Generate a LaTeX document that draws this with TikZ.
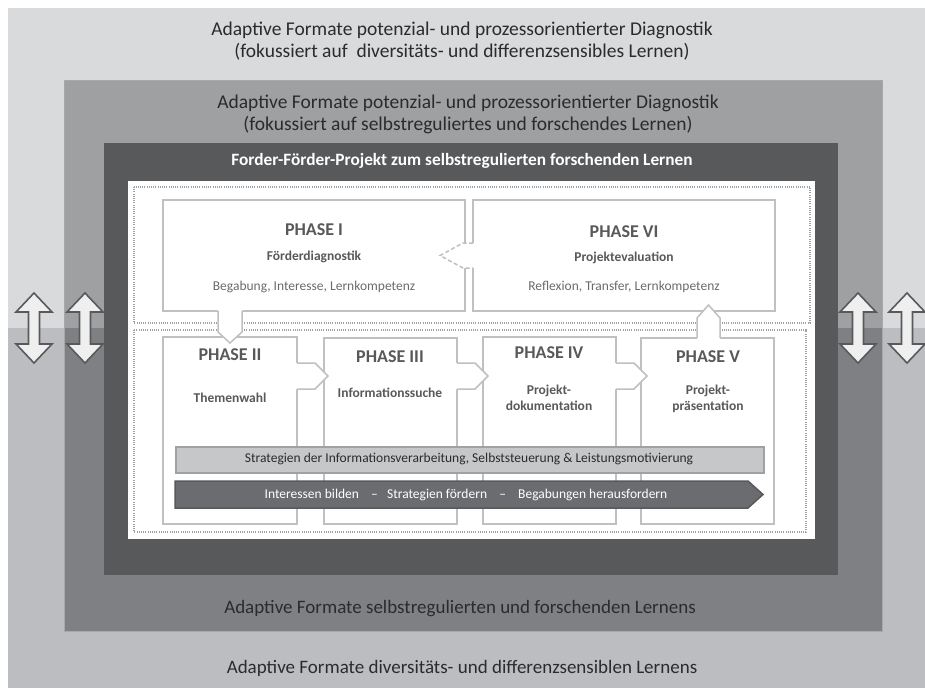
\documentclass[tikz,border=0pt]{standalone}
\usepackage{fontspec}
\setmainfont{Carlito}
\definecolor{lightU}{HTML}{D9DADB}
\definecolor{lightL}{HTML}{BCBDC0}
\definecolor{midU}{HTML}{9FA0A2}
\definecolor{midL}{HTML}{7F8083}
\definecolor{midB}{HTML}{A7A8AA}
\definecolor{darkC}{HTML}{58595B}
\definecolor{txtD}{HTML}{2B2B2D}
\definecolor{boxE}{HTML}{BFC0C2}
\definecolor{phT}{HTML}{58595B}
\definecolor{phD}{HTML}{6A6B6D}
\definecolor{dotC}{HTML}{A0A1A3}
\definecolor{barF}{HTML}{C6C7C9}
\definecolor{barE}{HTML}{A0A1A3}
\definecolor{arrF}{HTML}{6B6C6F}
\definecolor{dblF}{HTML}{EFEFEF}
\begin{document}
\begin{tikzpicture}[x=1bp,y=-1bp,
  bigtxt/.style={text=txtD,align=center,inner sep=0pt,font=\fontsize{19.5bp}{22.5bp}\selectfont},
  bottxt/.style={text=txtD,align=center,inner sep=0pt,font=\fontsize{19bp}{22bp}\selectfont},
  titletxt/.style={text=white,inner sep=0pt,font=\bfseries\fontsize{17.3bp}{19bp}\selectfont},
  phasebox/.style={draw=boxE,fill=white,line width=1.5bp,inner sep=0pt,outer sep=0pt,anchor=north west},
  phttl/.style={text=phT,inner sep=0pt,font=\bfseries\fontsize{18bp}{20bp}\selectfont},
  phsub/.style={text=phT,inner sep=0pt,align=center,font=\bfseries\fontsize{13.5bp}{15.5bp}\selectfont},
  phdesc/.style={text=phD,inner sep=0pt,font=\fontsize{13.5bp}{15bp}\selectfont},
  tabline/.style={draw=boxE,line width=1.5bp,line join=miter},
  tabdash/.style={draw=boxE,line width=1.5bp,dash pattern=on 4bp off 2.5bp},
  dotbox/.style={draw=dotC,line width=1.2bp,dash pattern=on 1bp off 1.2bp},
  dblarr/.style={draw=darkC,fill=dblF,line width=1.6bp,line join=miter},
  bartxt/.style={text=txtD,inner sep=0pt,font=\fontsize{13.5bp}{15bp}\selectfont},
  arrtxt/.style={text=white,inner sep=0pt,font=\fontsize{13.5bp}{15bp}\selectfont}]
\useasboundingbox (0,0) rectangle (925,688);
\fill[white] (0,0) rectangle (925,688);
% background layers
\fill[lightU] (8,8) rectangle (925,328);
\fill[lightL] (8,328) rectangle (925,688);
\fill[midU] (64,81) rectangle (882,328);
\fill[midL] (64,328) rectangle (882,631);
\draw[midB,line width=1bp] (64,81) rectangle (882,631);
\fill[darkC] (104,143) rectangle (838,575);
\fill[white] (128,181) rectangle (815,539);
\draw[dotbox] (134,187) rectangle (810,323);
\draw[dotbox] (134,330) rectangle (806,532);
% layer texts
\node[bigtxt] (outerTop) at (462,41) {Adaptive Formate potenzial- und prozessorientierter Diagnostik\\(fokussiert auf\ \ diversitäts- und differenzsensibles Lernen)};
\node[bigtxt] (midTop) at (468,114.5) {Adaptive Formate potenzial- und prozessorientierter Diagnostik\\(fokussiert auf selbstreguliertes und forschendes Lernen)};
\node[titletxt] (projTitle) at (462,161) {Forder-Förder-Projekt zum selbstregulierten forschenden Lernen};
\node[bottxt] (midBot) at (460,609) {Adaptive Formate selbstregulierten und forschenden Lernens};
\node[bottxt] (outerBot) at (462,668) {Adaptive Formate diversitäts- und differenzsensiblen Lernens};
% double arrows
\foreach \cx [count=\i] in {34,85,858,907} {
  \draw[dblarr] (\cx,293) -- (\cx+18,312) -- (\cx+5.5,312) -- (\cx+5.5,344) -- (\cx+18,344) -- (\cx,363) -- (\cx-18,344) -- (\cx-5.5,344) -- (\cx-5.5,312) -- (\cx-18,312) -- cycle;
}
% phase boxes
\node[phasebox,minimum width=302bp,minimum height=111bp] (p1) at (163,200) {};
\node[phasebox,minimum width=302bp,minimum height=111bp] (p6) at (473,200) {};
\node[phasebox,minimum width=134bp,minimum height=187bp] (p2) at (163,337) {};
\node[phasebox,minimum width=133bp,minimum height=186bp] (p3) at (324,338) {};
\node[phasebox,minimum width=133bp,minimum height=187bp] (p4) at (483,337) {};
\node[phasebox,minimum width=133bp,minimum height=186bp] (p5) at (641,338) {};
% tabs: I -> II (down)
\fill[white] (218,309.5) -- (218,332) -- (230,343) -- (242,332) -- (242,309.5) -- cycle;
\draw[tabline] (218,311) -- (218,332) -- (230,343) -- (242,332) -- (242,311);
% II -> III, III -> IV, IV -> V (right)
\foreach \bx in {297,457,616} {
  \fill[white] (\bx-1.5,363) -- (\bx+18,363) -- (\bx+31,376) -- (\bx+18,389) -- (\bx-1.5,389) -- cycle;
  \draw[tabline] (\bx,363) -- (\bx+18,363) -- (\bx+31,376) -- (\bx+18,389) -- (\bx,389);
}
% V -> VI (up)
\fill[white] (697,339.5) -- (697,318) -- (708.5,305) -- (720,318) -- (720,339.5) -- cycle;
\draw[tabline] (697,338) -- (697,318) -- (708.5,305) -- (720,318) -- (720,338);
% VI -> I (dashed, left)
\fill[white] (474.5,243) -- (463,243) -- (440,255.5) -- (463,268) -- (474.5,268) -- cycle;
\draw[tabdash] (473,243) -- (463,243) -- (440,255.5) -- (463,268) -- (473,268);
% phase texts
\node[phttl] (t1) at (314,230) {PHASE I};
\node[phsub] (s1) at (314,257) {Förderdiagnostik};
\node[phdesc] (d1) at (314,287) {Begabung, Interesse, Lernkompetenz};
\node[phttl] (t6) at (624,232) {PHASE VI};
\node[phsub] (s6) at (624,258) {Projektevaluation};
\node[phdesc] (d6) at (624,287) {Reflexion, Transfer, Lernkompetenz};
\node[phttl] (t2) at (230,355) {PHASE II};
\node[phsub] (s2) at (230,398) {Themenwahl};
\node[phttl] (t3) at (390,357) {PHASE III};
\node[phsub] (s3) at (390,393) {Informationssuche};
\node[phttl] (t4) at (549,353) {PHASE IV};
\node[phsub] (s4) at (549,398) {Projekt-\\dokumentation};
\node[phttl] (t5) at (708,357) {PHASE V};
\node[phsub] (s5) at (708,399) {Projekt-\\präsentation};
% bars
\node[draw=barE,fill=barF,line width=1.5bp,inner sep=0pt,minimum width=588bp,minimum height=26bp,anchor=north west] (strat) at (175,446) {};
\node[bartxt] (stratTxt) at (469,459) {Strategien der Informationsverarbeitung, Selbststeuerung \& Leistungsmotivierung};
\draw[draw=darkC,fill=arrF,line width=1.5bp] (175,481) -- (748,481) -- (763,494.5) -- (748,508) -- (175,508) -- cycle;
\node[arrtxt] (arrTxt) at (466,494.5) {Interessen bilden\ \ \ \ –\ \ \ Strategien fördern\ \ \ \ –\ \ \ \ Begabungen herausfordern};
\end{tikzpicture}
\end{document}
